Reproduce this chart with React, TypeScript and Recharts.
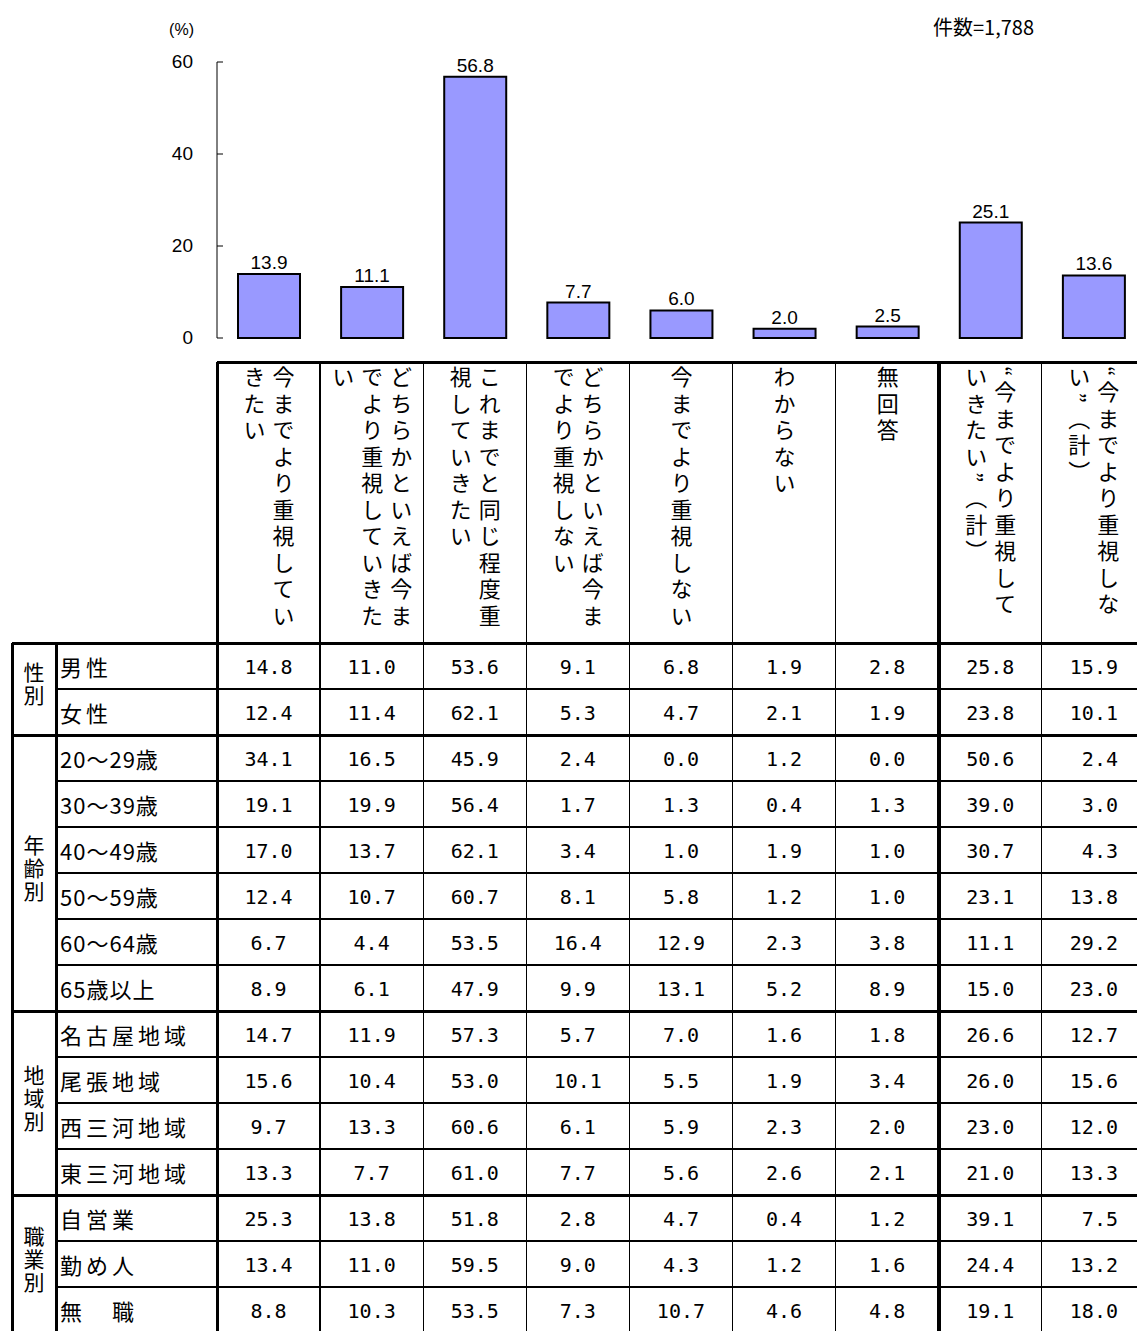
import React from 'react';
import { BarChart, Bar, XAxis, YAxis, LabelList } from 'recharts';

// 選択肢（表の見出しも兼ねる）
const categories = [
  '今までより重視していきたい',
  'どちらかといえば今までより重視していきたい',
  'これまでと同じ程度重視していきたい',
  'どちらかといえば今までより重視しない',
  '今までより重視しない',
  'わからない',
  '無回答',
  '“今までより重視していきたい”（計）',
  '“今までより重視しない”（計）',
];
const overallValues = [13.9, 11.1, 56.8, 7.7, 6.0, 2.0, 2.5, 25.1, 13.6];
const yTicks = [0, 20, 40, 60];
const sampleLabel = '件数=1,788';
const unitLabel = '(%)';

const groupLabels = ['性別', '年齢別', '地域別', '職業別'];

const genderLabels = ['男性', '女性'];
const genderValues = [
  [14.8, 11.0, 53.6, 9.1, 6.8, 1.9, 2.8, 25.8, 15.9],
  [12.4, 11.4, 62.1, 5.3, 4.7, 2.1, 1.9, 23.8, 10.1],
];

const ageLabels = ['20～29歳', '30～39歳', '40～49歳', '50～59歳', '60～64歳', '65歳以上'];
const ageValues = [
  [34.1, 16.5, 45.9, 2.4, 0.0, 1.2, 0.0, 50.6, 2.4],
  [19.1, 19.9, 56.4, 1.7, 1.3, 0.4, 1.3, 39.0, 3.0],
  [17.0, 13.7, 62.1, 3.4, 1.0, 1.9, 1.0, 30.7, 4.3],
  [12.4, 10.7, 60.7, 8.1, 5.8, 1.2, 1.0, 23.1, 13.8],
  [6.7, 4.4, 53.5, 16.4, 12.9, 2.3, 3.8, 11.1, 29.2],
  [8.9, 6.1, 47.9, 9.9, 13.1, 5.2, 8.9, 15.0, 23.0],
];

const regionLabels = ['名古屋地域', '尾張地域', '西三河地域', '東三河地域'];
const regionValues = [
  [14.7, 11.9, 57.3, 5.7, 7.0, 1.6, 1.8, 26.6, 12.7],
  [15.6, 10.4, 53.0, 10.1, 5.5, 1.9, 3.4, 26.0, 15.6],
  [9.7, 13.3, 60.6, 6.1, 5.9, 2.3, 2.0, 23.0, 12.0],
  [13.3, 7.7, 61.0, 7.7, 5.6, 2.6, 2.1, 21.0, 13.3],
];

const jobLabels = ['自営業', '勤め人', '無　職'];
const jobValues = [
  [25.3, 13.8, 51.8, 2.8, 4.7, 0.4, 1.2, 39.1, 7.5],
  [13.4, 11.0, 59.5, 9.0, 4.3, 1.2, 1.6, 24.4, 13.2],
  [8.8, 10.3, 53.5, 7.3, 10.7, 4.6, 4.8, 19.1, 18.0],
];

const groups = [
  { label: groupLabels[0], rows: genderLabels, values: genderValues },
  { label: groupLabels[1], rows: ageLabels, values: ageValues },
  { label: groupLabels[2], rows: regionLabels, values: regionValues },
  { label: groupLabels[3], rows: jobLabels, values: jobValues },
];

const chartData = categories.map((name, i) => ({ name, value: overallValues[i] }));

// layout
const PLOT_LEFT = 217;
const COL_W = 103.1;
const HEAD_TOP = 362;
const TABLE_TOP = 643;
const ROW_H = 46;
const OUTER_LEFT = 12;
const GROUP_RIGHT = 56;
const JP = '"Noto Sans CJK JP", sans-serif';
const NUM = '"DejaVu Sans Mono", monospace';
const colX = (i: number) => PLOT_LEFT + i * COL_W;

const YTick = (props: any) => {
  const { x, y, payload } = props;
  return (
    <g>
      <line x1={x + 24} x2={x + 30} y1={y} y2={y} stroke="#000" />
      <text x={x} y={y} dy={6} textAnchor="end" fontSize={19} fontFamily="Liberation Sans" fill="#000">
        {payload.value}
      </text>
    </g>
  );
};

const HLine = ({ x1, x2, y, t }: { x1: number; x2: number; y: number; t: number }) => (
  <div style={{ position: 'absolute', left: x1, top: y - t / 2, width: x2 - x1, height: t, background: '#000' }} />
);
const VLine = ({ x, y1, y2, t }: { x: number; y1: number; y2: number; t: number }) => (
  <div style={{ position: 'absolute', left: x - t / 2, top: y1, width: t, height: y2 - y1, background: '#000' }} />
);

export default function App() {
  const lines: React.ReactNode[] = [];
  const cells: React.ReactNode[] = [];
  const RIGHT = 1160;
  let rowIndex = 0;
  let key = 0;

  groups.forEach((g, gi) => {
    const gTop = TABLE_TOP + rowIndex * ROW_H;
    const gBottom = gTop + g.rows.length * ROW_H;
    cells.push(
      <div
        key={key++}
        style={{
          position: 'absolute', left: OUTER_LEFT, top: gTop, width: GROUP_RIGHT - OUTER_LEFT, height: gBottom - gTop,
          display: 'flex', alignItems: 'center', justifyContent: 'center',
        }}
      >
        <div style={{ writingMode: 'vertical-rl', fontFamily: JP, fontSize: 21, letterSpacing: 2, lineHeight: '22px', marginTop: -8 }}>
          {g.label}
        </div>
      </div>
    );
    if (gi > 0) lines.push(<HLine key={key++} x1={OUTER_LEFT} x2={RIGHT} y={gTop} t={3} />);
    g.rows.forEach((label, ri) => {
      const top = TABLE_TOP + rowIndex * ROW_H;
      if (ri > 0) lines.push(<HLine key={key++} x1={GROUP_RIGHT} x2={RIGHT} y={top} t={1.3} />);
      const hasDigit = /\d/.test(label);
      cells.push(
        <div
          key={key++}
          style={{
            position: 'absolute', left: GROUP_RIGHT + 4, top, height: ROW_H, lineHeight: `${ROW_H}px`,
            fontFamily: JP, fontSize: 22, letterSpacing: hasDigit ? 1 : 4, whiteSpace: 'nowrap',
          }}
        >
          {label}
        </div>
      );
      g.values[ri].forEach((v, ci) => {
        const last = ci === categories.length - 1;
        cells.push(
          <div
            key={key++}
            style={{
              position: 'absolute', left: colX(ci), top: top + 1, width: last ? 1118 - colX(ci) : COL_W, height: ROW_H,
              lineHeight: `${ROW_H}px`, textAlign: last ? 'right' : 'center', fontFamily: NUM, fontSize: 20,
            }}
          >
            {v.toFixed(1)}
          </div>
        );
      });
      rowIndex++;
    });
  });

  const tableBottom = TABLE_TOP + rowIndex * ROW_H;

  // column lines
  categories.forEach((_, i) => {
    const x = colX(i);
    if (i === 0) lines.push(<VLine key={key++} x={x} y1={HEAD_TOP} y2={tableBottom} t={3} />);
    else if (i === 7) lines.push(<VLine key={key++} x={x} y1={HEAD_TOP} y2={tableBottom} t={4} />);
    else lines.push(<VLine key={key++} x={x} y1={HEAD_TOP} y2={tableBottom} t={1.3} />);
  });
  lines.push(<VLine key={key++} x={OUTER_LEFT} y1={TABLE_TOP} y2={tableBottom} t={3} />);
  lines.push(<VLine key={key++} x={GROUP_RIGHT} y1={TABLE_TOP} y2={tableBottom} t={3} />);
  lines.push(<HLine key={key++} x1={PLOT_LEFT} x2={RIGHT} y={HEAD_TOP} t={3} />);
  lines.push(<HLine key={key++} x1={OUTER_LEFT} x2={RIGHT} y={TABLE_TOP} t={3} />);

  return (
    <div
      style={{
        position: 'absolute', left: 0, top: 0, width: 1137, height: 1331, overflow: 'hidden', background: '#fff', color: '#000',
      }}
    >
      <div style={{ position: 'absolute', left: 140, top: 21, width: 54, textAlign: 'right', fontFamily: 'Liberation Sans', fontSize: 16 }}>
        {unitLabel}
      </div>
      <div style={{ position: 'absolute', left: 933, top: 12, fontFamily: JP, fontSize: 20, whiteSpace: 'nowrap' }}>
        {sampleLabel}
      </div>

      <div style={{ position: 'absolute', left: 0, top: 0 }}>
        <BarChart width={1150} height={358} data={chartData} margin={{ top: 62, right: 5, left: 0, bottom: 20 }}>
          <XAxis dataKey="name" hide />
          <YAxis
            width={PLOT_LEFT}
            domain={[0, 60]}
            ticks={yTicks}
            interval={0}
            axisLine={{ stroke: '#000' }}
            tickLine={false}
            tickSize={0}
            tickMargin={24}
            tick={<YTick />}
          />
          <Bar dataKey="value" fill="#9999FF" stroke="#000" strokeWidth={2} barSize={62} isAnimationActive={false}>
            <LabelList
              dataKey="value"
              position="top"
              offset={5}
              fill="#000"
              fontSize={19}
              fontFamily="Liberation Sans"
              formatter={(v: any) => Number(v).toFixed(1)}
            />
          </Bar>
        </BarChart>
      </div>

      {categories.map((c, i) => (
        <div
          key={`h${i}`}
          style={{
            position: 'absolute', left: colX(i), top: HEAD_TOP, width: COL_W, height: TABLE_TOP - HEAD_TOP,
            display: 'flex', justifyContent: 'center', background: 'transparent',
          }}
        >
          <div
            style={{
              writingMode: 'vertical-rl', height: 268, marginTop: 4, fontFamily: JP, fontSize: 22, letterSpacing: 4.5,
              lineHeight: '29px', lineBreak: 'anywhere', wordBreak: 'break-all',
            }}
          >
            {c}
          </div>
        </div>
      ))}

      {cells}
      {lines}
    </div>
  );
}
